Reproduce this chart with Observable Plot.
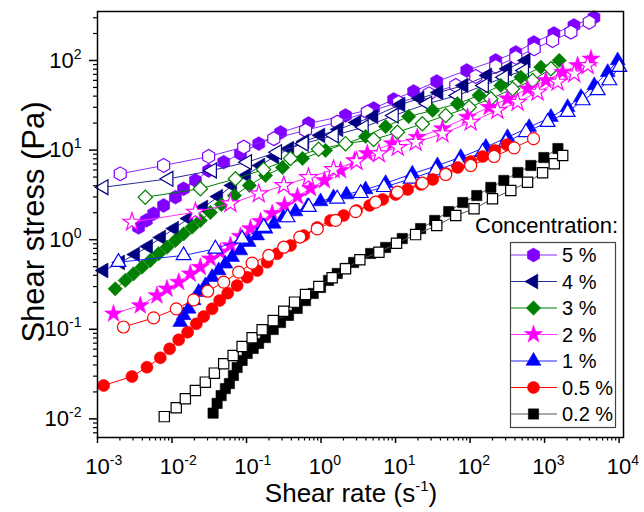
<!DOCTYPE html>
<html><head><meta charset="utf-8">
<script src="https://cdn.jsdelivr.net/npm/d3@7"></script>
<script src="https://cdn.jsdelivr.net/npm/@observablehq/plot@0.6"></script>
<style>
html,body{margin:0;padding:0;background:#fff;}
svg{display:block;}
</style>
</head><body>
<script>
// ---------- DATA (shear rate in s^-1, shear stress in Pa) ----------
// 5 %
const x5f = [0.00356,0.00452,0.00566,0.00771,0.0111,0.0143,0.0206,0.0310,0.0494,0.0828,0.146,0.286,0.679,2.13,5.08,9.43,17.5,35.7,90.3,221,411,718,1334,2477,4600];
const y5f = [1.37,1.64,1.95,2.41,2.98,3.70,4.58,5.92,7.33,9.10,11.8,15.7,19.8,24.3,29.1,36.7,45.1,58.3,77.3,100,123,159,200,246,302];
const x5o = [0.00202,0.00771,0.0310,0.0917,0.232,0.619,1.65,4.18,11.0,28.1,64.3,119,221,411,725,1281,2256,3975];
const y5o = [5.44,6.73,8.48,10.8,13.4,16.6,20.5,26.5,34.0,42.5,52.6,66.3,85.7,108,135,167,207,267];
// 4 %
const x4f = [0.00121,0.00202,0.00321,0.00480,0.00718,0.0107,0.0166,0.0264,0.0419,0.0646,0.0997,0.154,0.237,0.377,0.600,0.985,1.72,3.00,5.08,11.7,21.1,37.9,82.3,171,318,561];
const y4f = [0.453,0.557,0.684,0.840,1.06,1.33,1.72,2.29,3.03,4.03,5.21,6.73,8.48,10.4,12.5,14.6,17.0,20.3,23.7,32.3,37.7,43.9,52.6,68.0,80.8,100];
const x4o = [0.00121,0.0090,0.0345,0.102,0.258,0.587,1.49,3.76,9.51,26.8,67.7,154,286,532];
const y4o = [3.85,4.78,5.92,7.33,9.48,11.8,14.6,18.0,24.3,32.9,40.7,52.6,65.1,77.3];
// 3 %
const x3f = [0.00173,0.00236,0.00305,0.00395,0.00511,0.00661,0.00857,0.0111,0.0143,0.0186,0.0240,0.0327,0.0460,0.0688,0.109,0.180,0.304,0.564,1.15,2.13,3.96,7.36,15.0,31.5,67.7,132,259,480,891,1571];
const y3f = [0.283,0.351,0.416,0.493,0.586,0.697,0.824,0.980,1.16,1.38,1.64,2.01,2.47,3.11,4.03,5.21,6.40,8.06,9.90,11.8,14.2,18.3,23.7,27.7,32.9,40.7,52.6,65.1,84.2,100];
const x3o = [0.00438,0.0240,0.0710,0.169,0.389,0.926,2.13,5.08,10.6,22.9,47.1,97.0,190,371,690,1216];
const y3o = [2.98,3.70,4.78,6.07,8.06,10.2,11.8,13.1,15.8,19.7,24.3,30.1,37.4,48.3,59.8,80.8];
// 2 %
const x2f = [0.00164,0.00375,0.00628,0.00857,0.0123,0.0176,0.0240,0.0327,0.0446,0.0608,0.0828,0.113,0.154,0.221,0.323,0.483,0.722,1.11,1.83,2.82,4.18,9.06,19.6,42.6,92.3,180,318,591,1041,1746,2778,4191];
const y2f = [0.149,0.184,0.238,0.283,0.336,0.416,0.493,0.612,0.725,0.861,1.09,1.33,1.60,1.96,2.41,3.03,3.73,4.58,5.92,7.65,9.16,11.8,13.9,17.3,23.3,30.1,37.4,48.3,59.8,74.0,87.9,104];
const x2o = [0.00290,0.0206,0.0608,0.146,0.316,0.679,1.47,3.00,5.98,10.7,18.6,42.6,102,233,434,805,1496,2500,3784];
const y2o = [1.57,2.03,2.52,3.25,4.03,4.94,6.07,7.46,9.10,10.7,12.2,15.2,20.5,27.7,34.2,44.3,57.3,71.1,87.9];
// 1 %
const x1f = [0.0129,0.0143,0.0167,0.0195,0.0228,0.0281,0.0345,0.0423,0.0520,0.0640,0.0828,0.107,0.139,0.180,0.232,0.313,0.454,0.659,0.985,1.47,2.20,3.96,7.36,16.8,36.5,75.0,163,318,621,1216,2037,3076,4645,7031,9573];
const y1f = [0.120,0.143,0.169,0.210,0.260,0.308,0.381,0.453,0.538,0.638,0.757,0.938,1.11,1.32,1.50,1.77,2.06,2.35,2.67,2.96,3.19,3.63,4.27,5.44,6.73,8.33,10.8,13.9,18.0,23.3,30.1,38.9,52.6,74.0,100];
const x1o = [0.00191,0.0143,0.0382,0.0873,0.170,0.355,0.685,1.65,3.40,6.98,16.0,34.6,71.1,147,302,561,1097,2037,3243,5156,7383,10060];
const y1o = [0.561,0.667,0.791,1.02,1.38,1.77,2.31,2.86,3.30,3.85,4.78,5.92,7.33,9.48,12.2,15.8,20.5,26.5,35.8,46.3,59.8,84.2];
// 0.5 %
const x05f = [0.00121,0.00290,0.00461,0.00697,0.00929,0.0123,0.0162,0.0212,0.0266,0.0345,0.0436,0.0559,0.0748,0.102,0.139,0.189,0.258,0.389,0.587,0.889,1.34,2.01,3.00,4.49,6.71,10.0,14.5,21.8,31.5,47.1,68.3,102,148,215,311];
const y05f = [0.0236,0.0297,0.0378,0.0481,0.0605,0.0764,0.0929,0.115,0.139,0.169,0.210,0.253,0.308,0.381,0.453,0.561,0.697,0.861,1.11,1.37,1.64,1.86,2.12,2.41,2.81,3.19,3.63,4.13,4.70,5.48,6.40,7.46,8.48,9.90,11.5];
const x05o = [0.00223,0.00566,0.0114,0.0195,0.0301,0.0494,0.0785,0.119,0.199,0.316,0.519,0.889,1.57,2.91,5.40,10.6,22.9,47.1,102,210,390,711];
const y05o = [0.106,0.134,0.169,0.213,0.266,0.336,0.434,0.547,0.667,0.824,1.07,1.32,1.64,2.06,2.62,3.39,4.27,5.34,6.73,8.48,10.6,13.4];
// 0.2 %
const x02f = [0.0356,0.0403,0.0456,0.0520,0.0589,0.0667,0.0748,0.0873,0.102,0.123,0.145,0.179,0.228,0.286,0.366,0.479,0.619,0.785,0.984,1.26,1.65,2.13,2.74,4.63,7.36,12.3,21.7,33.5,51.7,79.8,123,190,284,438,655,979,1510];
const y02f = [0.0116,0.0149,0.0182,0.0218,0.0248,0.0305,0.0375,0.0449,0.0537,0.0611,0.0695,0.0809,0.0995,0.119,0.143,0.171,0.209,0.251,0.293,0.351,0.420,0.478,0.557,0.702,0.819,1.03,1.33,1.64,2.06,2.60,3.11,3.83,4.58,5.62,6.73,8.26,10.4];
const x02o = [0.00788,0.0114,0.0151,0.0206,0.0280,0.0370,0.0494,0.0661,0.0873,0.119,0.162,0.228,0.316,0.441,0.619,0.934,1.41,2.13,3.32,5.98,10.3,18.6,35.7,64.3,113,200,352,591,940,1350,1750];
const y02o = [0.0106,0.0133,0.0168,0.0207,0.0257,0.0324,0.0412,0.0510,0.0643,0.0804,0.0988,0.125,0.159,0.201,0.244,0.300,0.376,0.473,0.597,0.725,0.914,1.14,1.44,1.86,2.21,2.86,3.54,4.38,5.58,7.03,8.71];

const concentrations = ["5 %","4 %","3 %","2 %","1 %","0.5 %","0.2 %"];
const xMajor = [1e-3,1e-2,1e-1,1e0,1e1,1e2,1e3,1e4];
const yMajor = [1e-2,1e-1,1e0,1e1,1e2];
const xTitle = "Shear rate (s";
const xTitleSup = "-1";
const yTitle = "Shear stress (Pa)";
const legendTitle = "Concentration:";

// ---------- STYLE ----------
const FONT = "'Liberation Sans', Arial, Helvetica, sans-serif";
const hexagon = {draw(ctx, size) {
  const rx = Math.sqrt(size / Math.PI), ry = rx * Math.sqrt(4 / 3), hy = ry / 2;
  ctx.moveTo(0, ry); ctx.lineTo(rx, hy); ctx.lineTo(rx, -hy);
  ctx.lineTo(0, -ry); ctx.lineTo(-rx, -hy); ctx.lineTo(-rx, hy); ctx.closePath();
}};
const styles = [
  {color:"#7f00ff", line:"#8a2bff", symbol:hexagon, rotate:0, r:6.0},
  {color:"#000080", line:"#2a2a98", symbol:d3.symbolTriangle, rotate:-90, r:5.5},
  {color:"#008000", line:"#008000", symbol:d3.symbolSquare, rotate:45, r:5.7},
  {color:"#ff00ff", line:"#ff33ff", symbol:d3.symbolStar, rotate:0, r:5.6},
  {color:"#0000ff", line:"#2020ff", symbol:d3.symbolTriangle, rotate:0, r:5.5},
  {color:"#ff0000", line:"#ff0000", symbol:d3.symbolCircle, rotate:0, r:6.0},
  {color:"#000000", line:"#555555", symbol:d3.symbolSquare, rotate:0, r:5.8}
];
const seriesData = [
  [x5f,y5f,x5o,y5o],[x4f,y4f,x4o,y4o],[x3f,y3f,x3o,y3o],[x2f,y2f,x2o,y2o],
  [x1f,y1f,x1o,y1o],[x05f,y05f,x05o,y05o],[x02f,y02f,x02o,y02o]
];
const rows = (xs, ys) => xs.map((x, i) => ({x, y: ys[i]}));

const xMinor = [], yMinor = [];
for (let e = -3; e <= 4; e++) for (let k = 2; k <= 9; k++) { const v = k * 10 ** e; if (v <= 11460) xMinor.push(v); }
for (let e = -3; e <= 2; e++) for (let k = 2; k <= 9; k++) { const v = k * 10 ** e; if (v >= 0.0062 && v <= 352) yMinor.push(v); }

const marks = [];
seriesData.forEach((d, i) => {
  const s = styles[i];
  const f = rows(d[0], d[1]), o = rows(d[2], d[3]);
  marks.push(Plot.line(f, {x:"x", y:"y", stroke:s.line, strokeWidth:1}));
  marks.push(Plot.dot(f, {x:"x", y:"y", symbol:s.symbol, r:s.r, rotate:s.rotate, fill:s.color, stroke:s.color, strokeWidth:0.6}));
  marks.push(Plot.line(o, {x:"x", y:"y", stroke:s.line, strokeWidth:1}));
  marks.push(Plot.dot(o, {x:"x", y:"y", symbol:s.symbol, r:s.r, rotate:s.rotate, fill:"white", stroke:s.color, strokeWidth:1.2}));
});

const pow = d => String(Math.round(Math.log10(d)));
marks.push(
  Plot.axisX({ticks: xMajor, tickSize: 6, tickPadding: 15, tickFormat: d => "10^" + pow(d), fontSize: 22, strokeWidth: 1.5, label: null}),
  Plot.axisX({ticks: xMinor, tickSize: 3.5, tickFormat: () => "", strokeWidth: 1.2, label: null}),
  Plot.axisY({ticks: yMajor, tickSize: 8, tickPadding: 8, tickFormat: d => "10|" + pow(d), fontSize: 22, strokeWidth: 1.5, label: null}),
  Plot.axisY({ticks: yMinor, tickSize: 4, tickFormat: () => "", strokeWidth: 1.2, label: null}),
  Plot.frame({stroke: "black", strokeWidth: 1.5})
);

const chart = Plot.plot({
  width: 644, height: 512,
  marginLeft: 97, marginRight: 21, marginTop: 11, marginBottom: 75,
  x: {type: "log", domain: [1e-3, 11460]},
  y: {type: "log", domain: [0.0062, 352]},
  style: {fontFamily: FONT, background: "white", color: "black", overflow: "visible"},
  marks
});
document.body.appendChild(chart);

// ---------- superscript tick labels ----------
const NS = "http://www.w3.org/2000/svg";
function tspan(txt, attrs) {
  const t = document.createElementNS(NS, "tspan");
  t.textContent = txt;
  for (const k in (attrs || {})) t.setAttribute(k, attrs[k]);
  return t;
}
chart.querySelectorAll("text").forEach(t => {
  const s = t.textContent;
  if (s.includes("^")) {
    const [b, e] = s.split("^");
    t.textContent = "";
    t.setAttribute("text-anchor", "start");
    const tb = tspan(b), te = tspan(e, {"font-size": 14, dy: -9});
    t.appendChild(tb); t.appendChild(te);
    tb.setAttribute("dx", -tb.getComputedTextLength() / 2);
  } else if (s.includes("|")) {
    const [b, e] = s.split("|");
    t.textContent = "";
    t.setAttribute("text-anchor", "end");
    t.appendChild(tspan(b)); t.appendChild(tspan(e, {"font-size": 14, dy: -9}));
  }
});

// ---------- axis titles ----------
const svg = d3.select(chart);
const xt = svg.append("text").attr("x", 351).attr("y", 502).attr("text-anchor", "middle")
  .attr("font-size", 26).attr("font-family", FONT).attr("fill", "black");
xt.append("tspan").text(xTitle);
xt.append("tspan").attr("font-size", 15).attr("dy", -11).text(xTitleSup);
xt.append("tspan").attr("dy", 11).text(")");
svg.append("text").attr("transform", "translate(44,222) rotate(-90)").attr("text-anchor", "middle")
  .attr("font-size", 31).attr("font-family", FONT).attr("fill", "black").text(yTitle);

// ---------- legend ----------
svg.append("text").attr("x", 475).attr("y", 233).attr("text-anchor", "start").attr("font-size", 22)
  .attr("font-family", FONT).attr("fill", "black").text(legendTitle);
svg.append("rect").attr("x", 510.5).attr("y", 242.5).attr("width", 105).attr("height", 185)
  .attr("fill", "white").attr("stroke", "#444").attr("stroke-width", 1.2);
concentrations.forEach((lab, i) => {
  const s = styles[i], cy = 255 + i * 26.5;
  svg.append("line").attr("x1", 511).attr("x2", 557).attr("y1", cy).attr("y2", cy)
    .attr("stroke", s.line).attr("stroke-width", 1.2);
  svg.append("path").attr("d", d3.symbol(s.symbol, Math.PI * s.r * s.r)())
    .attr("transform", `translate(533.5,${cy}) rotate(${s.rotate})`)
    .attr("fill", s.color).attr("stroke", s.color).attr("stroke-width", 0.6);
  svg.append("text").attr("x", 562).attr("y", cy).attr("dy", "0.35em").attr("text-anchor", "start")
    .attr("font-size", 20).attr("font-family", FONT).attr("fill", "black").text(lab);
});
</script>
</body></html>
